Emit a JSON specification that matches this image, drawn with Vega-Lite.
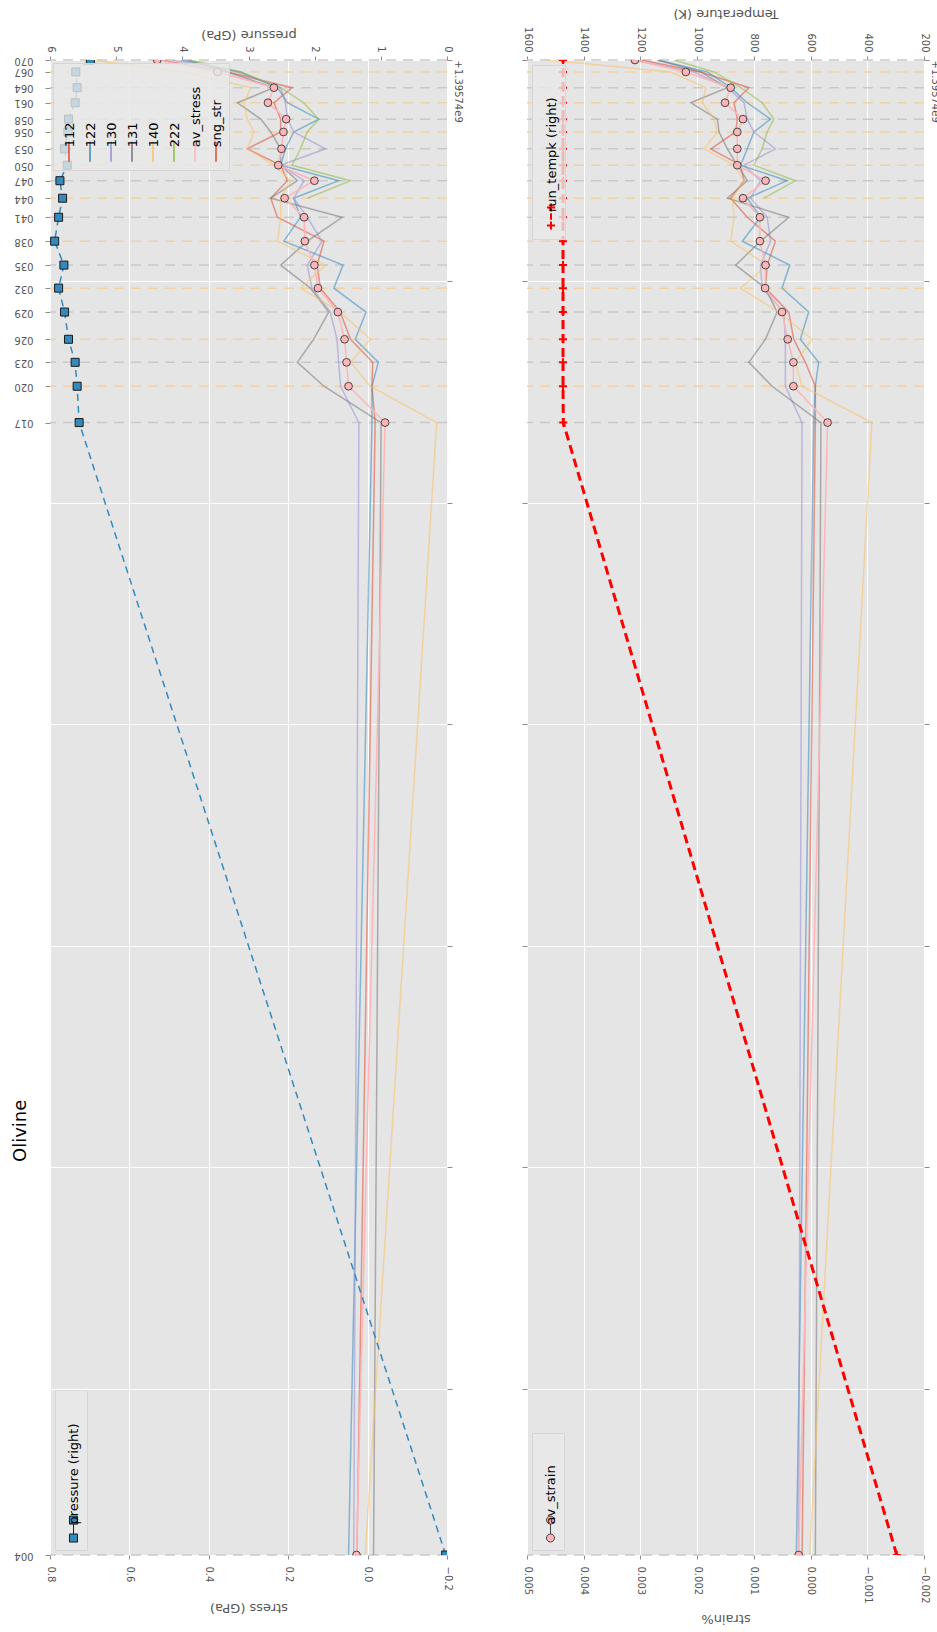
{
  "$schema": "https://vega.github.io/schema/vega-lite/v6.json",
  "padding": {"left": 11, "top": 6, "right": 0, "bottom": 0},
  "bounds": "flush",
  "spacing": 80,
  "title": {"text": "Olivine", "orient": "left", "anchor": "start", "frame": "group", "dx": 393, "dy": 16, "offset": 0, "fontSize": 18, "fontWeight": "normal", "font": "DejaVu Sans", "color": "#000000"},
  "config": {
    "font": "DejaVu Sans",
    "view": {"fill": "#E5E5E5", "stroke": null},
    "style": {"guide-label": {"angle": -90}},
    "axis": {"labelFont": "DejaVu Sans", "labelFontSize": 10, "labelColor": "#555555", "titleFont": "DejaVu Sans", "titleFontSize": 13, "titleFontWeight": "normal", "titleColor": "#555555", "domain": false, "tickColor": "#8C8C8C", "tickSize": 4, "tickWidth": 1, "gridColor": "#FFFFFF", "gridWidth": 1, "gridOpacity": 1, "labelFlush": false, "labelOverlap": false},
    "legend": {"labelFont": "DejaVu Sans", "labelFontSize": 13, "labelColor": "#000000", "labelAlign": "left", "labelBaseline": "middle", "fillColor": "rgba(233,233,233,0.8)", "strokeColor": "#D6D6D6", "padding": 5, "offset": 5, "direction": "horizontal", "titleFontSize": 1, "titleAnchor": "start", "labelExpr": "'\u00a0\u00a0\u00a0\u00a0\u00a0\u00a0' + datum.label"}
  },
  "datasets": {
    "runs": [
      {"run": "070", "time": 70000, "kind": "a"}, {"run": "067", "time": 69460, "kind": "b"},
      {"run": "064", "time": 68750, "kind": "a"}, {"run": "061", "time": 68070, "kind": "b"},
      {"run": "058", "time": 67330, "kind": "a"}, {"run": "056", "time": 66750, "kind": "b"},
      {"run": "053", "time": 65990, "kind": "a"}, {"run": "050", "time": 65250, "kind": "b"},
      {"run": "047", "time": 64550, "kind": "a"}, {"run": "044", "time": 63760, "kind": "b"},
      {"run": "041", "time": 62900, "kind": "a"}, {"run": "038", "time": 61820, "kind": "b"},
      {"run": "035", "time": 60740, "kind": "a"}, {"run": "032", "time": 59700, "kind": "b"},
      {"run": "029", "time": 58620, "kind": "a"}, {"run": "026", "time": 57390, "kind": "b"},
      {"run": "023", "time": 56350, "kind": "a"}, {"run": "020", "time": 55270, "kind": "b"},
      {"run": "017", "time": 53630, "kind": "a"}, {"run": "004", "time": 2500, "kind": "a"}
    ],
    "cond": [
      {"time": 70000, "pressure": 5.39, "tempk": 1473}, {"time": 69460, "pressure": 5.61, "tempk": 1473},
      {"time": 68750, "pressure": 5.59, "tempk": 1473}, {"time": 68070, "pressure": 5.62, "tempk": 1473},
      {"time": 67330, "pressure": 5.72, "tempk": 1473}, {"time": 66750, "pressure": 5.73, "tempk": 1473},
      {"time": 65990, "pressure": 5.78, "tempk": 1473}, {"time": 65250, "pressure": 5.74, "tempk": 1473},
      {"time": 64550, "pressure": 5.85, "tempk": 1473}, {"time": 63760, "pressure": 5.81, "tempk": 1473},
      {"time": 62900, "pressure": 5.87, "tempk": 1473}, {"time": 61820, "pressure": 5.93, "tempk": 1473},
      {"time": 60740, "pressure": 5.79, "tempk": 1473}, {"time": 59700, "pressure": 5.87, "tempk": 1473},
      {"time": 58620, "pressure": 5.78, "tempk": 1473}, {"time": 57390, "pressure": 5.72, "tempk": 1473},
      {"time": 56350, "pressure": 5.62, "tempk": 1473}, {"time": 55270, "pressure": 5.59, "tempk": 1473},
      {"time": 53630, "pressure": 5.56, "tempk": 1472}, {"time": 2500, "pressure": 0.02, "tempk": 296}
    ],
    "stress": [
      {"time": 70000, "sample": "112", "stress": 0.52}, {"time": 69460, "sample": "112", "stress": 0.353}, {"time": 68750, "sample": "112", "stress": 0.19}, {"time": 68070, "sample": "112", "stress": 0.236}, {"time": 67330, "sample": "112", "stress": 0.219}, {"time": 66750, "sample": "112", "stress": 0.219}, {"time": 65990, "sample": "112", "stress": 0.303}, {"time": 65250, "sample": "112", "stress": 0.219}, {"time": 64550, "sample": "112", "stress": 0.202}, {"time": 63760, "sample": "112", "stress": 0.244}, {"time": 62900, "sample": "112", "stress": 0.227}, {"time": 61820, "sample": "112", "stress": 0.11}, {"time": 60740, "sample": "112", "stress": 0.127}, {"time": 59700, "sample": "112", "stress": 0.119}, {"time": 58620, "sample": "112", "stress": 0.069}, {"time": 57390, "sample": "112", "stress": 0.043}, {"time": 56350, "sample": "112", "stress": -0.013}, {"time": 55270, "sample": "112", "stress": -0.011}, {"time": 53630, "sample": "112", "stress": -0.019}, {"time": 2500, "sample": "112", "stress": 0.027},
      {"time": 70000, "sample": "122", "stress": 0.47}, {"time": 69460, "sample": "122", "stress": 0.32}, {"time": 68750, "sample": "122", "stress": 0.227}, {"time": 68070, "sample": "122", "stress": 0.202}, {"time": 67330, "sample": "122", "stress": 0.123}, {"time": 66750, "sample": "122", "stress": 0.186}, {"time": 65990, "sample": "122", "stress": 0.207}, {"time": 65250, "sample": "122", "stress": 0.219}, {"time": 64550, "sample": "122", "stress": 0.073}, {"time": 63760, "sample": "122", "stress": 0.186}, {"time": 62900, "sample": "122", "stress": 0.169}, {"time": 61820, "sample": "122", "stress": 0.211}, {"time": 60740, "sample": "122", "stress": 0.062}, {"time": 59700, "sample": "122", "stress": 0.085}, {"time": 58620, "sample": "122", "stress": 0.004}, {"time": 57390, "sample": "122", "stress": 0.031}, {"time": 56350, "sample": "122", "stress": -0.027}, {"time": 55270, "sample": "122", "stress": -0.011}, {"time": 53630, "sample": "122", "stress": -0.011}, {"time": 2500, "sample": "122", "stress": 0.048},
      {"time": 70000, "sample": "130", "stress": 0.49}, {"time": 69460, "sample": "130", "stress": 0.328}, {"time": 68750, "sample": "130", "stress": 0.219}, {"time": 68070, "sample": "130", "stress": 0.207}, {"time": 67330, "sample": "130", "stress": 0.202}, {"time": 66750, "sample": "130", "stress": 0.186}, {"time": 65990, "sample": "130", "stress": 0.106}, {"time": 65250, "sample": "130", "stress": 0.219}, {"time": 64550, "sample": "130", "stress": 0.16}, {"time": 63760, "sample": "130", "stress": 0.186}, {"time": 62900, "sample": "130", "stress": 0.152}, {"time": 61820, "sample": "130", "stress": 0.115}, {"time": 60740, "sample": "130", "stress": 0.152}, {"time": 59700, "sample": "130", "stress": 0.14}, {"time": 58620, "sample": "130", "stress": 0.094}, {"time": 57390, "sample": "130", "stress": 0.077}, {"time": 56350, "sample": "130", "stress": 0.073}, {"time": 55270, "sample": "130", "stress": 0.068}, {"time": 53630, "sample": "130", "stress": 0.022}, {"time": 2500, "sample": "130", "stress": 0.035},
      {"time": 70000, "sample": "131", "stress": 0.453}, {"time": 69460, "sample": "131", "stress": 0.353}, {"time": 68750, "sample": "131", "stress": 0.236}, {"time": 68070, "sample": "131", "stress": 0.328}, {"time": 67330, "sample": "131", "stress": 0.269}, {"time": 66750, "sample": "131", "stress": 0.244}, {"time": 65990, "sample": "131", "stress": 0.219}, {"time": 65250, "sample": "131", "stress": 0.219}, {"time": 64550, "sample": "131", "stress": 0.177}, {"time": 63760, "sample": "131", "stress": 0.244}, {"time": 62900, "sample": "131", "stress": 0.064}, {"time": 61820, "sample": "131", "stress": 0.152}, {"time": 60740, "sample": "131", "stress": 0.219}, {"time": 59700, "sample": "131", "stress": 0.144}, {"time": 58620, "sample": "131", "stress": 0.098}, {"time": 57390, "sample": "131", "stress": 0.136}, {"time": 56350, "sample": "131", "stress": 0.177}, {"time": 55270, "sample": "131", "stress": 0.11}, {"time": 53630, "sample": "131", "stress": -0.034}, {"time": 2500, "sample": "131", "stress": -0.015},
      {"time": 70000, "sample": "140", "stress": 0.696}, {"time": 69460, "sample": "140", "stress": 0.462}, {"time": 68750, "sample": "140", "stress": 0.294}, {"time": 68070, "sample": "140", "stress": 0.311}, {"time": 67330, "sample": "140", "stress": 0.303}, {"time": 66750, "sample": "140", "stress": 0.286}, {"time": 65990, "sample": "140", "stress": 0.303}, {"time": 65250, "sample": "140", "stress": 0.236}, {"time": 64550, "sample": "140", "stress": 0.194}, {"time": 63760, "sample": "140", "stress": 0.219}, {"time": 62900, "sample": "140", "stress": 0.219}, {"time": 61820, "sample": "140", "stress": 0.227}, {"time": 60740, "sample": "140", "stress": 0.106}, {"time": 59700, "sample": "140", "stress": 0.169}, {"time": 58620, "sample": "140", "stress": 0.069}, {"time": 57390, "sample": "140", "stress": -0.007}, {"time": 56350, "sample": "140", "stress": 0.043}, {"time": 55270, "sample": "140", "stress": -0.007}, {"time": 53630, "sample": "140", "stress": -0.174}, {"time": 2500, "sample": "140", "stress": 0.006},
      {"time": 70000, "sample": "222", "stress": 0.445}, {"time": 69460, "sample": "222", "stress": 0.32}, {"time": 68750, "sample": "222", "stress": 0.219}, {"time": 68070, "sample": "222", "stress": 0.161}, {"time": 67330, "sample": "222", "stress": 0.123}, {"time": 66750, "sample": "222", "stress": 0.152}, {"time": 65990, "sample": "222", "stress": 0.169}, {"time": 65250, "sample": "222", "stress": 0.19}, {"time": 64550, "sample": "222", "stress": 0.043}, {"time": 63760, "sample": "222", "stress": 0.152},
      {"time": 70000, "sample": "av_stress", "stress": 0.53}, {"time": 69460, "sample": "av_stress", "stress": 0.378}, {"time": 68750, "sample": "av_stress", "stress": 0.236}, {"time": 68070, "sample": "av_stress", "stress": 0.251}, {"time": 67330, "sample": "av_stress", "stress": 0.205}, {"time": 66750, "sample": "av_stress", "stress": 0.212}, {"time": 65990, "sample": "av_stress", "stress": 0.217}, {"time": 65250, "sample": "av_stress", "stress": 0.225}, {"time": 64550, "sample": "av_stress", "stress": 0.134}, {"time": 63760, "sample": "av_stress", "stress": 0.209}, {"time": 62900, "sample": "av_stress", "stress": 0.16}, {"time": 61820, "sample": "av_stress", "stress": 0.158}, {"time": 60740, "sample": "av_stress", "stress": 0.134}, {"time": 59700, "sample": "av_stress", "stress": 0.125}, {"time": 58620, "sample": "av_stress", "stress": 0.075}, {"time": 57390, "sample": "av_stress", "stress": 0.058}, {"time": 56350, "sample": "av_stress", "stress": 0.053}, {"time": 55270, "sample": "av_stress", "stress": 0.048}, {"time": 53630, "sample": "av_stress", "stress": -0.044}, {"time": 2500, "sample": "av_stress", "stress": 0.028}
    ],
    "strain": [
      {"time": 70000, "sample": "112", "strain": 0.002991}, {"time": 69460, "sample": "112", "strain": 0.001936}, {"time": 68750, "sample": "112", "strain": 0.001087}, {"time": 68070, "sample": "112", "strain": 0.00135}, {"time": 67330, "sample": "112", "strain": 0.001292}, {"time": 66750, "sample": "112", "strain": 0.001321}, {"time": 65990, "sample": "112", "strain": 0.00176}, {"time": 65250, "sample": "112", "strain": 0.001233}, {"time": 64550, "sample": "112", "strain": 0.001174}, {"time": 63760, "sample": "112", "strain": 0.001409}, {"time": 62900, "sample": "112", "strain": 0.001116}, {"time": 61820, "sample": "112", "strain": 0.000619}, {"time": 60740, "sample": "112", "strain": 0.000765}, {"time": 59700, "sample": "112", "strain": 0.000796}, {"time": 58620, "sample": "112", "strain": 0.000385}, {"time": 57390, "sample": "112", "strain": 0.000297}, {"time": 56350, "sample": "112", "strain": 0.000092}, {"time": 55270, "sample": "112", "strain": -0.000084}, {"time": 53630, "sample": "112", "strain": -0.000084}, {"time": 2500, "sample": "112", "strain": 0.00015},
      {"time": 70000, "sample": "122", "strain": 0.0027}, {"time": 69460, "sample": "122", "strain": 0.001819}, {"time": 68750, "sample": "122", "strain": 0.001409}, {"time": 68070, "sample": "122", "strain": 0.001116}, {"time": 67330, "sample": "122", "strain": 0.000706}, {"time": 66750, "sample": "122", "strain": 0.000999}, {"time": 65990, "sample": "122", "strain": 0.001116}, {"time": 65250, "sample": "122", "strain": 0.001233}, {"time": 64550, "sample": "122", "strain": 0.000414}, {"time": 63760, "sample": "122", "strain": 0.001116}, {"time": 62900, "sample": "122", "strain": 0.000882}, {"time": 61820, "sample": "122", "strain": 0.001204}, {"time": 60740, "sample": "122", "strain": 0.000367}, {"time": 59700, "sample": "122", "strain": 0.000503}, {"time": 58620, "sample": "122", "strain": 0.000034}, {"time": 57390, "sample": "122", "strain": 0.00018}, {"time": 56350, "sample": "122", "strain": -0.000142}, {"time": 55270, "sample": "122", "strain": -0.000084}, {"time": 53630, "sample": "122", "strain": -0.000055}, {"time": 2500, "sample": "122", "strain": 0.00025},
      {"time": 70000, "sample": "130", "strain": 0.003139}, {"time": 69460, "sample": "130", "strain": 0.002054}, {"time": 68750, "sample": "130", "strain": 0.001467}, {"time": 68070, "sample": "130", "strain": 0.001174}, {"time": 67330, "sample": "130", "strain": 0.001116}, {"time": 66750, "sample": "130", "strain": 0.000999}, {"time": 65990, "sample": "130", "strain": 0.000619}, {"time": 65250, "sample": "130", "strain": 0.001174}, {"time": 64550, "sample": "130", "strain": 0.000882}, {"time": 63760, "sample": "130", "strain": 0.001058}, {"time": 62900, "sample": "130", "strain": 0.000765}, {"time": 61820, "sample": "130", "strain": 0.000706}, {"time": 60740, "sample": "130", "strain": 0.000882}, {"time": 59700, "sample": "130", "strain": 0.000854}, {"time": 58620, "sample": "130", "strain": 0.000473}, {"time": 57390, "sample": "130", "strain": 0.000444}, {"time": 56350, "sample": "130", "strain": 0.000444}, {"time": 55270, "sample": "130", "strain": 0.000444}, {"time": 53630, "sample": "130", "strain": 0.000151}, {"time": 2500, "sample": "130", "strain": 0.00021},
      {"time": 70000, "sample": "131", "strain": 0.0027}, {"time": 69460, "sample": "131", "strain": 0.001936}, {"time": 68750, "sample": "131", "strain": 0.001467}, {"time": 68070, "sample": "131", "strain": 0.002113}, {"time": 67330, "sample": "131", "strain": 0.001643}, {"time": 66750, "sample": "131", "strain": 0.001614}, {"time": 65990, "sample": "131", "strain": 0.001467}, {"time": 65250, "sample": "131", "strain": 0.001292}, {"time": 64550, "sample": "131", "strain": 0.001116}, {"time": 63760, "sample": "131", "strain": 0.001467}, {"time": 62900, "sample": "131", "strain": 0.000384}, {"time": 61820, "sample": "131", "strain": 0.000882}, {"time": 60740, "sample": "131", "strain": 0.001321}, {"time": 59700, "sample": "131", "strain": 0.000796}, {"time": 58620, "sample": "131", "strain": 0.00059}, {"time": 57390, "sample": "131", "strain": 0.000796}, {"time": 56350, "sample": "131", "strain": 0.001088}, {"time": 55270, "sample": "131", "strain": 0.000678}, {"time": 53630, "sample": "131", "strain": -0.000183}, {"time": 2500, "sample": "131", "strain": -0.000084},
      {"time": 70000, "sample": "140", "strain": 0.004632}, {"time": 69460, "sample": "140", "strain": 0.002465}, {"time": 68750, "sample": "140", "strain": 0.001848}, {"time": 68070, "sample": "140", "strain": 0.001907}, {"time": 67330, "sample": "140", "strain": 0.001702}, {"time": 66750, "sample": "140", "strain": 0.001643}, {"time": 65990, "sample": "140", "strain": 0.001878}, {"time": 65250, "sample": "140", "strain": 0.00135}, {"time": 64550, "sample": "140", "strain": 0.001174}, {"time": 63760, "sample": "140", "strain": 0.001379}, {"time": 62900, "sample": "140", "strain": 0.00135}, {"time": 61820, "sample": "140", "strain": 0.001409}, {"time": 60740, "sample": "140", "strain": 0.000765}, {"time": 59700, "sample": "140", "strain": 0.001234}, {"time": 58620, "sample": "140", "strain": 0.000561}, {"time": 57390, "sample": "140", "strain": -0.000025}, {"time": 56350, "sample": "140", "strain": 0.000268}, {"time": 55270, "sample": "140", "strain": 0.000151}, {"time": 53630, "sample": "140", "strain": -0.001081}, {"time": 2500, "sample": "140", "strain": 0.000016},
      {"time": 70000, "sample": "222", "strain": 0.002407}, {"time": 69460, "sample": "222", "strain": 0.001702}, {"time": 68750, "sample": "222", "strain": 0.001233}, {"time": 68070, "sample": "222", "strain": 0.000853}, {"time": 67330, "sample": "222", "strain": 0.000648}, {"time": 66750, "sample": "222", "strain": 0.000765}, {"time": 65990, "sample": "222", "strain": 0.000853}, {"time": 65250, "sample": "222", "strain": 0.000999}, {"time": 64550, "sample": "222", "strain": 0.000267}, {"time": 63760, "sample": "222", "strain": 0.000823},
      {"time": 70000, "sample": "av_strain", "strain": 0.003097}, {"time": 69460, "sample": "av_strain", "strain": 0.0022}, {"time": 68750, "sample": "av_strain", "strain": 0.001409}, {"time": 68070, "sample": "av_strain", "strain": 0.001509}, {"time": 67330, "sample": "av_strain", "strain": 0.001192}, {"time": 66750, "sample": "av_strain", "strain": 0.001292}, {"time": 65990, "sample": "av_strain", "strain": 0.001292}, {"time": 65250, "sample": "av_strain", "strain": 0.001292}, {"time": 64550, "sample": "av_strain", "strain": 0.000794}, {"time": 63760, "sample": "av_strain", "strain": 0.001192}, {"time": 62900, "sample": "av_strain", "strain": 0.000894}, {"time": 61820, "sample": "av_strain", "strain": 0.000894}, {"time": 60740, "sample": "av_strain", "strain": 0.000794}, {"time": 59700, "sample": "av_strain", "strain": 0.000801}, {"time": 58620, "sample": "av_strain", "strain": 0.000503}, {"time": 57390, "sample": "av_strain", "strain": 0.000403}, {"time": 56350, "sample": "av_strain", "strain": 0.000303}, {"time": 55270, "sample": "av_strain", "strain": 0.000303}, {"time": 53630, "sample": "av_strain", "strain": -0.0003}, {"time": 2500, "sample": "av_strain", "strain": 0.00021}
    ]
  },
  "hconcat": [
    {
      "width": 397,
      "height": 1495,
      "layer": [
        {
          "data": {"name": "runs"},
          "mark": {"type": "rule", "strokeDash": [10, 7], "strokeWidth": 1.5},
          "encoding": {
            "y": {"field": "time", "type": "quantitative", "scale": {"domain": [2500, 70000], "nice": false, "zero": false},
              "axis": {"orient": "left", "values": [70000, 69460, 68750, 68070, 67330, 66750, 65990, 65250, 64550, 63760, 62900, 61820, 60740, 59700, 58620, 57390, 56350, 55270, 53630, 2500],
                "labelExpr": "datum.value == 70000 ? '070' : datum.value == 69460 ? '067' : datum.value == 68750 ? '064' : datum.value == 68070 ? '061' : datum.value == 67330 ? '058' : datum.value == 66750 ? '056' : datum.value == 65990 ? '053' : datum.value == 65250 ? '050' : datum.value == 64550 ? '047' : datum.value == 63760 ? '044' : datum.value == 62900 ? '041' : datum.value == 61820 ? '038' : datum.value == 60740 ? '035' : datum.value == 59700 ? '032' : datum.value == 58620 ? '029' : datum.value == 57390 ? '026' : datum.value == 56350 ? '023' : datum.value == 55270 ? '020' : datum.value == 53630 ? '017' : datum.value == 2500 ? '004' : ''",
                "labelAngle": 180, "labelAlign": "left", "labelBaseline": "middle", "labelPadding": 12, "tickSize": 5, "grid": false, "title": null}},
            "color": {"condition": {"test": "datum.kind === 'a'", "value": "#C9C9C9"}, "value": "#F2D2A4"}
          }
        },
        {
          "data": {"name": "stress"},
          "mark": {"type": "line", "strokeWidth": 1.5, "clip": true},
          "encoding": {
            "x": {"field": "stress", "type": "quantitative", "scale": {"domain": [-0.2, 0.8], "reverse": true, "nice": false, "zero": false},
              "axis": {"orient": "bottom", "values": [-0.2, 0, 0.2, 0.4, 0.6, 0.8], "format": ".1f", "labelAngle": 90, "labelAlign": "left", "labelBaseline": "middle", "labelPadding": 7, "grid": true, "title": "stress (GPa)", "titleAngle": 180, "titleBaseline": "bottom", "titlePadding": 10}},
            "y": {"field": "time", "type": "quantitative", "scale": {"domain": [2500, 70000], "nice": false, "zero": false},
              "axis": {"orient": "right", "values": [10000, 20000, 30000, 40000, 50000, 60000, 70000], "grid": true, "tickSize": 5, "title": null,
                "labelExpr": "datum.value == 70000 ? '+1.39574e9' : ''", "labelAngle": 90, "labelAlign": "left", "labelBaseline": "bottom", "labelPadding": 0}},
            "color": {"field": "sample", "type": "nominal",
              "scale": {"domain": ["112", "122", "130", "131", "140", "222", "av_stress", "sng_str"], "range": ["#E24A33", "#348ABD", "#988ED5", "#777777", "#FBC15E", "#8EBA42", "#FFB5B8", "#E24A33"]},
              "legend": {"title": "\u00a0", "orient": "top-left", "direction": "horizontal", "columns": 8, "symbolType": "M0,-0.55L0,1.45", "symbolSize": 400, "symbolStrokeWidth": 1.5, "labelOffset": -10, "columnPadding": 1, "offset": 3, "titlePadding": 67}},
            "opacity": {"condition": {"test": "datum.sample === 'av_stress'", "value": 1}, "value": 0.55},
            "order": {"field": "time", "type": "quantitative"}
          }
        },
        {
          "data": {"name": "stress"},
          "transform": [{"filter": "datum.sample === 'av_stress'"}],
          "mark": {"type": "point", "shape": "circle", "filled": true, "fill": "#FFB5B8", "stroke": "#444444", "strokeWidth": 1, "size": 60, "opacity": 1, "clip": true},
          "encoding": {
            "x": {"field": "stress", "type": "quantitative", "scale": {"domain": [-0.2, 0.8], "reverse": true, "nice": false, "zero": false}, "axis": null},
            "y": {"field": "time", "type": "quantitative", "scale": {"domain": [2500, 70000], "nice": false, "zero": false}, "axis": null}
          }
        },
        {
          "data": {"name": "cond"},
          "mark": {"type": "line", "color": "#348ABD", "strokeDash": [7, 5], "strokeWidth": 1.5, "clip": true},
          "encoding": {
            "x": {"field": "pressure", "type": "quantitative", "scale": {"domain": [0, 6], "reverse": true, "nice": false, "zero": false},
              "axis": {"orient": "top", "values": [0, 1, 2, 3, 4, 5, 6], "format": "d", "labelAngle": 90, "labelAlign": "right", "labelBaseline": "middle", "labelPadding": 4, "grid": false, "title": "pressure (GPa)", "titleAngle": 180, "titleBaseline": "top", "titlePadding": 5}},
            "y": {"field": "time", "type": "quantitative", "scale": {"domain": [2500, 70000], "nice": false, "zero": false}, "axis": null},
            "order": {"field": "time", "type": "quantitative"}
          }
        },
        {
          "data": {"name": "cond"},
          "mark": {"type": "point", "shape": "square", "filled": true, "stroke": "#1A1A1A", "strokeWidth": 1, "size": 64, "opacity": 1, "clip": true},
          "encoding": {
            "x": {"field": "pressure", "type": "quantitative", "scale": {"domain": [0, 6], "reverse": true, "nice": false, "zero": false}, "axis": null},
            "y": {"field": "time", "type": "quantitative", "scale": {"domain": [2500, 70000], "nice": false, "zero": false}, "axis": null},
            "fill": {"datum": "pressure (right)", "type": "nominal", "scale": {"range": ["#348ABD"]},
              "legend": {"title": "\u00a0", "orient": "bottom-left", "symbolType": "M-0.31,-0.65H0.31V-0.03H-0.31ZM-0.31,0.73H0.31V1.35H-0.31ZM0,-0.03V0.73", "symbolSize": 676, "symbolStrokeColor": "#1A1A1A", "symbolStrokeWidth": 1, "labelOffset": -13, "offset": 5, "titlePadding": 115}}
          }
        }
      ],
      "resolve": {"scale": {"x": "independent"}, "axis": {"y": "independent"}}
    },
    {
      "width": 397,
      "height": 1495,
      "layer": [
        {
          "data": {"name": "runs"},
          "mark": {"type": "rule", "strokeDash": [10, 7], "strokeWidth": 1.5},
          "encoding": {
            "y": {"field": "time", "type": "quantitative", "scale": {"domain": [2500, 70000], "nice": false, "zero": false},
              "axis": {"orient": "right", "values": [10000, 20000, 30000, 40000, 50000, 60000, 70000], "tickSize": 5, "grid": false, "title": null,
                "labelExpr": "datum.value == 70000 ? '+1.39574e9' : ''", "labelAngle": 90, "labelAlign": "left", "labelBaseline": "bottom", "labelPadding": 0}},
            "color": {"condition": {"test": "datum.kind === 'a'", "value": "#C9C9C9"}, "value": "#F2D2A4"}
          }
        },
        {
          "data": {"name": "strain"},
          "mark": {"type": "line", "strokeWidth": 1.5, "clip": true},
          "encoding": {
            "x": {"field": "strain", "type": "quantitative", "scale": {"domain": [-0.002, 0.005], "reverse": true, "nice": false, "zero": false},
              "axis": {"orient": "bottom", "values": [-0.002, -0.001, 0, 0.001, 0.002, 0.003, 0.004, 0.005], "format": ".3f", "labelAngle": 90, "labelAlign": "left", "labelBaseline": "middle", "labelPadding": 7, "grid": true, "title": "strain%", "titleAngle": 180, "titleBaseline": "bottom", "titlePadding": 8}},
            "y": {"field": "time", "type": "quantitative", "scale": {"domain": [2500, 70000], "nice": false, "zero": false},
              "axis": {"orient": "left", "values": [10000, 20000, 30000, 40000, 50000, 60000, 70000], "labels": false, "grid": true, "tickSize": 5, "title": null}},
            "color": {"field": "sample", "type": "nominal",
              "scale": {"domain": ["112", "122", "130", "131", "140", "222", "av_strain"], "range": ["#E24A33", "#348ABD", "#988ED5", "#777777", "#FBC15E", "#8EBA42", "#FFB5B8"]},
              "legend": null},
            "opacity": {"condition": {"test": "datum.sample === 'av_strain'", "value": 1}, "value": 0.55},
            "order": {"field": "time", "type": "quantitative"}
          }
        },
        {
          "data": {"name": "strain"},
          "transform": [{"filter": "datum.sample === 'av_strain'"}],
          "mark": {"type": "point", "shape": "circle", "filled": true, "stroke": "#444444", "strokeWidth": 1, "size": 60, "opacity": 1, "clip": true},
          "encoding": {
            "x": {"field": "strain", "type": "quantitative", "scale": {"domain": [-0.002, 0.005], "reverse": true, "nice": false, "zero": false}, "axis": null},
            "y": {"field": "time", "type": "quantitative", "scale": {"domain": [2500, 70000], "nice": false, "zero": false}, "axis": null},
            "fill": {"datum": "av_strain", "type": "nominal", "scale": {"range": ["#FFB5B8"]},
              "legend": {"title": "\u00a0", "orient": "bottom-left", "symbolType": "M-0.31,-0.34A0.31,0.31 0 1,1 0.31,-0.34A0.31,0.31 0 1,1 -0.31,-0.34ZM-0.31,1.04A0.31,0.31 0 1,1 0.31,1.04A0.31,0.31 0 1,1 -0.31,1.04ZM0,-0.03L0,0.73", "symbolSize": 676, "symbolStrokeColor": "#444444", "symbolStrokeWidth": 1, "labelOffset": -13, "offset": 5, "titlePadding": 72}}
          }
        },
        {
          "data": {"name": "cond"},
          "mark": {"type": "line", "color": "#FF0000", "strokeDash": [9, 5], "strokeWidth": 3, "clip": true},
          "encoding": {
            "x": {"field": "tempk", "type": "quantitative", "scale": {"domain": [200, 1600], "reverse": true, "nice": false, "zero": false},
              "axis": {"orient": "top", "values": [200, 400, 600, 800, 1000, 1200, 1400, 1600], "format": "d", "labelAngle": 90, "labelAlign": "right", "labelBaseline": "middle", "labelPadding": 4, "grid": false, "title": "Temperature (K)", "titleAngle": 180, "titleBaseline": "top", "titlePadding": 7}},
            "y": {"field": "time", "type": "quantitative", "scale": {"domain": [2500, 70000], "nice": false, "zero": false}, "axis": null},
            "order": {"field": "time", "type": "quantitative"}
          }
        },
        {
          "data": {"name": "cond"},
          "mark": {"type": "point", "shape": "M-1,0H1M0,-1V1", "filled": false, "strokeWidth": 2, "size": 64, "opacity": 1, "clip": true},
          "encoding": {
            "x": {"field": "tempk", "type": "quantitative", "scale": {"domain": [200, 1600], "reverse": true, "nice": false, "zero": false}, "axis": null},
            "y": {"field": "time", "type": "quantitative", "scale": {"domain": [2500, 70000], "nice": false, "zero": false}, "axis": null},
            "stroke": {"datum": "run_tempk (right)", "type": "nominal", "scale": {"range": ["#FF0000"]},
              "legend": {"title": "\u00a0", "orient": "top-left", "symbolType": "M-0.31,-0.34H0.31M0,-0.65V-0.03M-0.31,1.04H0.31M0,0.73V1.35M0,0.1V0.6", "symbolSize": 676, "symbolStrokeWidth": 2, "labelOffset": -13, "offset": 5, "titlePadding": 127}}
          }
        }
      ],
      "resolve": {"scale": {"x": "independent"}, "axis": {"y": "independent"}}
    }
  ],
  "resolve": {"scale": {"color": "independent", "shape": "independent", "fill": "independent", "stroke": "independent"}}
}
